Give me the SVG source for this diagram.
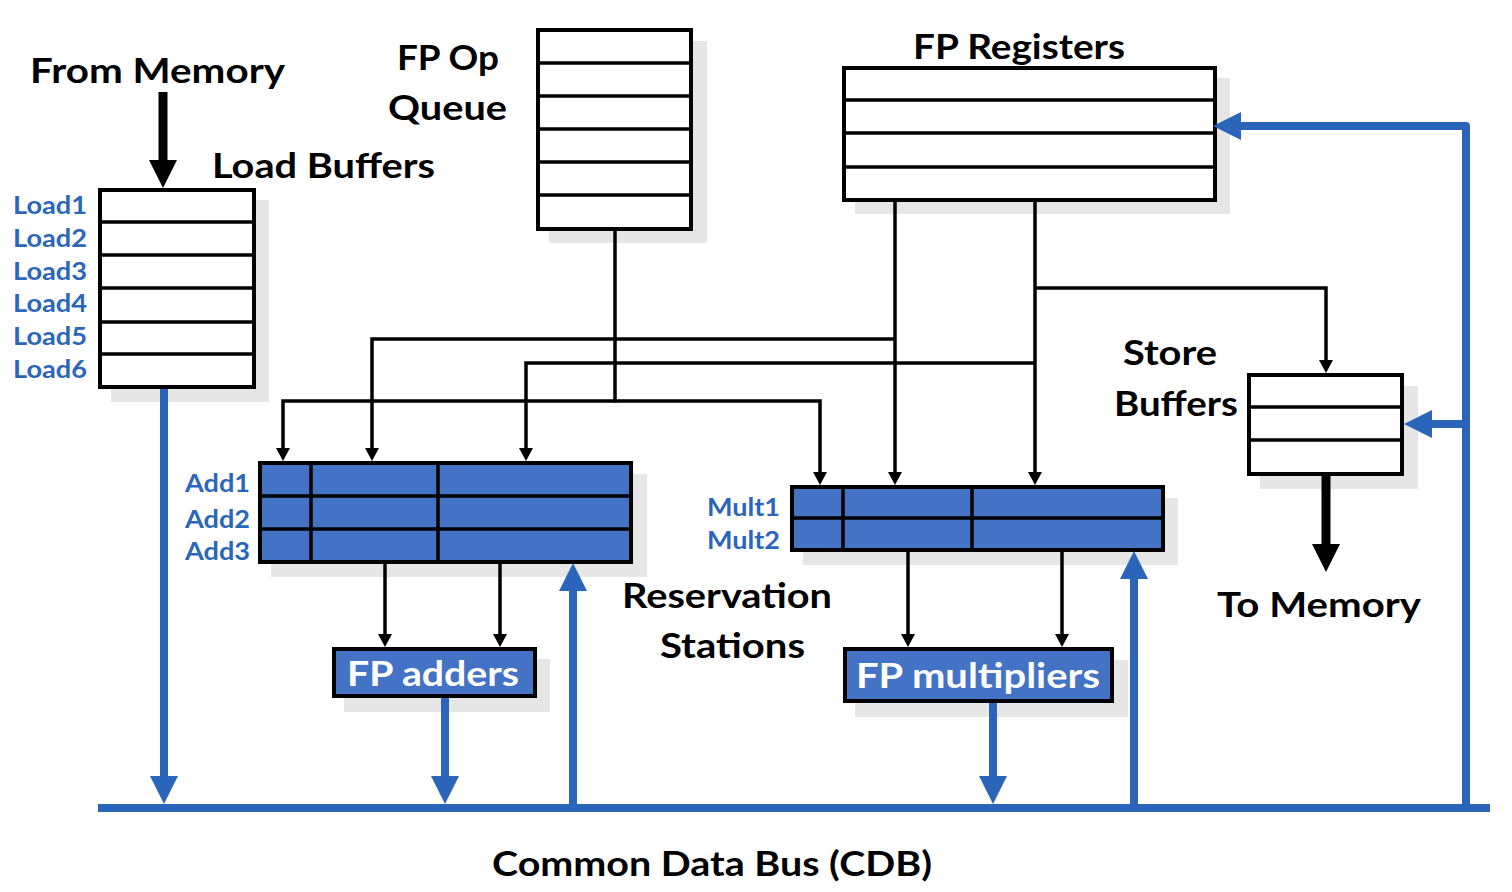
<svg xmlns="http://www.w3.org/2000/svg" width="1512" height="892" viewBox="0 0 1512 892">
<style>
.bg{fill:#ffffff}
.shadow{fill:#e7e6e6}
.box{fill:#ffffff;stroke:#000;stroke-width:4}
.rs{fill:#4472c4;stroke:#000;stroke-width:4}
.div{stroke:#000;stroke-width:3.5;fill:none}
.lbl{font-family:Lato,"Liberation Sans",sans-serif;font-weight:bold;font-size:35px;fill:#000}
.wlbl{font-family:Lato,"Liberation Sans",sans-serif;font-weight:bold;font-size:35px;fill:#fff}
.blbl{font-family:Lato,"Liberation Sans",sans-serif;font-weight:bold;font-size:25px;fill:#2b66ba}
.k{stroke:#000;stroke-width:3.5;fill:none}
.kk{stroke:#000;stroke-width:9;fill:none}
.b{stroke:#2a65ba;stroke-width:8;fill:none;stroke-linejoin:round}
</style>
<defs>
<marker id="ak" markerUnits="userSpaceOnUse" viewBox="0 0 13 14" markerWidth="13" markerHeight="14" refX="4" refY="7" orient="auto"><path d="M0,0 L13,7 L0,14 z" fill="#000"/></marker>
<marker id="akk" markerUnits="userSpaceOnUse" viewBox="0 0 28 28" markerWidth="28" markerHeight="28" refX="6" refY="14" orient="auto"><path d="M0,0 L28,14 L0,28 z" fill="#000"/></marker>
<marker id="ab" markerUnits="userSpaceOnUse" viewBox="0 0 28 28" markerWidth="28" markerHeight="28" refX="6" refY="14" orient="auto"><path d="M0,0 L28,14 L0,28 z" fill="#2a65ba"/></marker>
</defs>
<rect class="bg" x="0" y="0" width="1512" height="892"/>

<g id="load-buffers">
<rect class="shadow" x="111" y="200" width="158" height="202"/>
<rect class="box" x="100" y="190" width="154" height="197"/>
<path class="div" d="M100,222H254M100,255H254M100,288H254M100,322H254M100,354H254"/>
<text class="lbl" x="212" y="178" textLength="223" lengthAdjust="spacingAndGlyphs">Load Buffers</text>
<text class="blbl" x="13" y="214" textLength="74" lengthAdjust="spacingAndGlyphs">Load1</text>
<text class="blbl" x="13" y="247" textLength="74" lengthAdjust="spacingAndGlyphs">Load2</text>
<text class="blbl" x="13" y="280" textLength="74" lengthAdjust="spacingAndGlyphs">Load3</text>
<text class="blbl" x="13" y="312" textLength="74" lengthAdjust="spacingAndGlyphs">Load4</text>
<text class="blbl" x="13" y="345" textLength="74" lengthAdjust="spacingAndGlyphs">Load5</text>
<text class="blbl" x="13" y="378" textLength="74" lengthAdjust="spacingAndGlyphs">Load6</text>
</g>

<g id="from-memory">
<text class="lbl" x="30" y="83" textLength="255" lengthAdjust="spacingAndGlyphs">From Memory</text>
</g>

<g id="fp-op-queue">
<rect class="shadow" x="549" y="41" width="158" height="202"/>
<rect class="box" x="538" y="30" width="153" height="199"/>
<path class="div" d="M538,63H691M538,96H691M538,129H691M538,162H691M538,195H691"/>
<text class="lbl" x="397" y="70" textLength="102" lengthAdjust="spacingAndGlyphs">FP Op</text>
<text class="lbl" x="388" y="120" textLength="119" lengthAdjust="spacingAndGlyphs">Queue</text>
</g>

<g id="fp-registers">
<rect class="shadow" x="855" y="78" width="375" height="136"/>
<rect class="box" x="844" y="68" width="371" height="132"/>
<path class="div" d="M844,100H1215M844,133H1215M844,167H1215"/>
<text class="lbl" x="913" y="59" textLength="212" lengthAdjust="spacingAndGlyphs">FP Registers</text>
</g>

<g id="store-buffers">
<rect class="shadow" x="1260" y="386" width="158" height="103"/>
<rect class="box" x="1249" y="375" width="153" height="99"/>
<path class="div" d="M1249,407H1402M1249,440H1402"/>
<text class="lbl" x="1123" y="365" textLength="94" lengthAdjust="spacingAndGlyphs">Store</text>
<text class="lbl" x="1114" y="416" textLength="124" lengthAdjust="spacingAndGlyphs">Buffers</text>
</g>

<g id="to-memory">
<text class="lbl" x="1217" y="617" textLength="204" lengthAdjust="spacingAndGlyphs">To Memory</text>
</g>

<g id="add-rs">
<rect class="shadow" x="271" y="474" width="376" height="103"/>
<rect class="rs" x="260" y="463" width="371" height="99"/>
<path class="div" d="M260,496H631M260,529H631M311,463V562M438,463V562"/>
<text class="blbl" x="185" y="492" textLength="65" lengthAdjust="spacingAndGlyphs">Add1</text>
<text class="blbl" x="185" y="528" textLength="65" lengthAdjust="spacingAndGlyphs">Add2</text>
<text class="blbl" x="185" y="560" textLength="65" lengthAdjust="spacingAndGlyphs">Add3</text>
</g>

<g id="mult-rs">
<rect class="shadow" x="803" y="498" width="375" height="67"/>
<rect class="rs" x="792" y="487" width="371" height="63"/>
<path class="div" d="M792,518H1163M843,487V550M972,487V550"/>
<text class="blbl" x="707" y="516" textLength="73" lengthAdjust="spacingAndGlyphs">Mult1</text>
<text class="blbl" x="707" y="549" textLength="73" lengthAdjust="spacingAndGlyphs">Mult2</text>
</g>

<g id="reservation-stations">
<text class="lbl" x="622" y="608" textLength="210" lengthAdjust="spacingAndGlyphs">Reservation</text>
<text class="lbl" x="660" y="658" textLength="145" lengthAdjust="spacingAndGlyphs">Stations</text>
</g>

<g id="fp-adders">
<rect class="shadow" x="344" y="659" width="206" height="53"/>
<rect class="rs" x="334" y="649" width="201" height="47"/>
<text class="wlbl" x="347" y="686" textLength="172" lengthAdjust="spacingAndGlyphs">FP adders</text>
</g>

<g id="fp-multipliers">
<rect class="shadow" x="855" y="660" width="273" height="57"/>
<rect class="rs" x="845" y="649" width="267" height="52"/>
<text class="wlbl" x="856" y="688" textLength="244" lengthAdjust="spacingAndGlyphs">FP multipliers</text>
</g>

<g id="cdb">
<text class="lbl" x="492" y="876" textLength="440" lengthAdjust="spacingAndGlyphs">Common Data Bus (CDB)</text>
</g>

<g id="connectors">
<path class="kk" d="M163,92V166" marker-end="url(#akk)"/>
<path class="k" d="M615,229V401H283V452" marker-end="url(#ak)"/>
<path class="k" d="M615,401H820V476" marker-end="url(#ak)"/>
<path class="k" d="M895,202V476" marker-end="url(#ak)"/>
<path class="k" d="M895,339H372V452" marker-end="url(#ak)"/>
<path class="k" d="M1035,202V476" marker-end="url(#ak)"/>
<path class="k" d="M1035,363H526V452" marker-end="url(#ak)"/>
<path class="k" d="M1035,288H1326V364" marker-end="url(#ak)"/>
<path class="k" d="M385,564V638" marker-end="url(#ak)"/>
<path class="k" d="M500,564V638" marker-end="url(#ak)"/>
<path class="k" d="M908,552V638" marker-end="url(#ak)"/>
<path class="k" d="M1062,552V638" marker-end="url(#ak)"/>
<path class="kk" d="M1326,476V550" marker-end="url(#akk)"/>
<path class="b" d="M98,808H1490"/>
<path class="b" d="M164,389V782" marker-end="url(#ab)"/>
<path class="b" d="M445,698V782" marker-end="url(#ab)"/>
<path class="b" d="M573,808V585" marker-end="url(#ab)"/>
<path class="b" d="M993,703V782" marker-end="url(#ab)"/>
<path class="b" d="M1134,808V573" marker-end="url(#ab)"/>
<path class="b" d="M1466,808V126H1235" marker-end="url(#ab)"/>
<path class="b" d="M1466,424H1426" marker-end="url(#ab)"/>
</g>
</svg>
